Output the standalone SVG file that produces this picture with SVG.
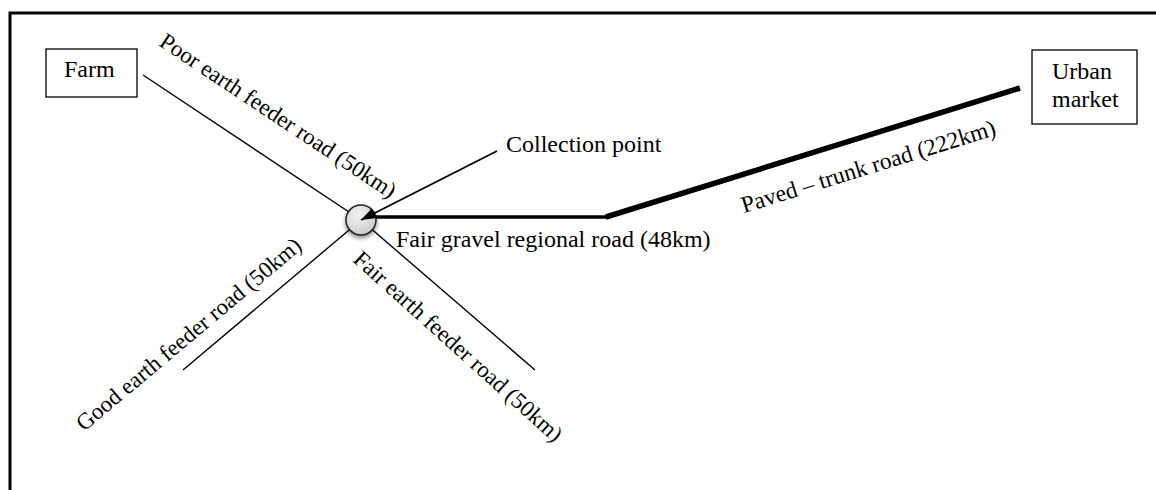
<svg xmlns="http://www.w3.org/2000/svg" width="1156" height="490" viewBox="0 0 1156 490">
  <style>
    .lbl { font-family: "Liberation Serif", "Times New Roman", serif; font-size: 24px; fill: #000; }
    .sm { font-size: 23px; }
    .md { font-size: 23.5px; }
    .box { fill: #fff; stroke: #000; stroke-width: 1.3; }
    .thin { stroke: #000; stroke-width: 1.4; fill: none; }
  </style>
  <defs>
    <radialGradient id="hubFill" cx="40%" cy="35%" r="70%">
      <stop offset="0" stop-color="#f4f4f4"/>
      <stop offset="1" stop-color="#c8c8c8"/>
    </radialGradient>
    <filter id="shadow" x="-50%" y="-50%" width="200%" height="200%">
      <feDropShadow dx="0" dy="2.5" stdDeviation="2" flood-color="#000" flood-opacity="0.45"/>
    </filter>
    <marker id="arrow" markerUnits="userSpaceOnUse" markerWidth="16" markerHeight="12" refX="15" refY="5.5" orient="auto">
      <path d="M0,0 L15,5.5 L0,11 Z" fill="#000"/>
    </marker>
  </defs>
  <rect width="1156" height="490" fill="#fff"/>
  <!-- frame -->
  <path d="M10,490 L10,13 L1156,13" fill="none" stroke="#000" stroke-width="3"/>

  <g id="connectors">
    <line class="thin" x1="143" y1="75" x2="361" y2="220"/>
    <line class="thin" x1="361" y1="220" x2="183" y2="370"/>
    <line class="thin" x1="361" y1="220" x2="535" y2="370"/>
    <line x1="361" y1="217" x2="607" y2="217" stroke="#000" stroke-width="3.5"/>
    <line x1="606" y1="217" x2="1020" y2="88" stroke="#000" stroke-width="5.5"/>
  </g>

  <g id="farm">
    <rect class="box" x="46" y="49" width="91" height="48"/>
    <text class="lbl" x="64" y="77">Farm</text>
  </g>

  <g id="urban-market">
    <rect class="box" x="1032" y="50" width="105" height="74"/>
    <text class="lbl" x="1052" y="79">Urban</text>
    <text class="lbl" x="1052" y="107">market</text>
  </g>

  <g id="hub">
    <circle cx="361" cy="220" r="15" fill="url(#hubFill)" stroke="#222" stroke-width="1.5" filter="url(#shadow)"/>
  </g>

  <g id="collection-connector">
    <line x1="497" y1="151" x2="361" y2="220" stroke="#000" stroke-width="1.8" marker-end="url(#arrow)"/>
  </g>

  <g id="labels">
    <text class="lbl" x="506" y="152">Collection point</text>
    <text class="lbl" x="396" y="247">Fair gravel regional road (48km)</text>
    <text class="lbl sm" transform="translate(158,45) rotate(33.6)">Poor earth feeder road (50km)</text>
    <text class="lbl sm" transform="translate(84,432) rotate(-40)">Good earth feeder road (50km)</text>
    <text class="lbl sm" transform="translate(352,261) rotate(42)">Fair earth feeder road (50km)</text>
    <text class="lbl md" transform="translate(744,213) rotate(-17.2)">Paved – trunk road (222km)</text>
  </g>
</svg>
